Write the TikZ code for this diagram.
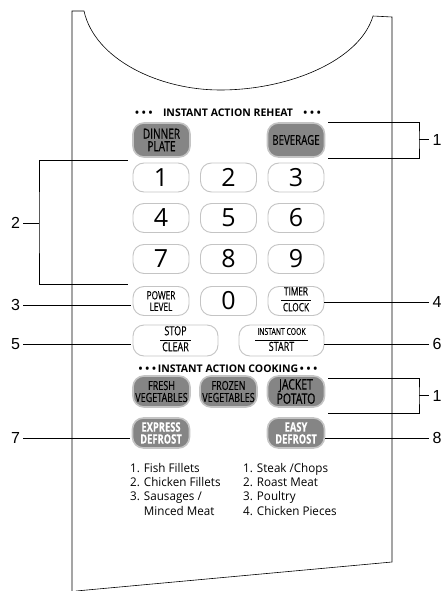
\documentclass[tikz,border=0pt]{standalone}
\usepackage{fontspec}
\setmainfont{Open Sans}
\newfontfamily\keyfont[FakeStretch=0.72,FakeBold=0.3]{Open Sans}
\newfontfamily\listfont[FakeStretch=0.97]{Open Sans}
\newfontfamily\callfont{Liberation Sans}
\usepackage{tikz}
\usetikzlibrary{positioning}
\definecolor{keygray}{HTML}{858585}
\definecolor{rimgray}{HTML}{C4C4C4}
\newcommand{\keyrule}[2]{{\setlength{\tabcolsep}{2pt}\begin{tabular}{c}#1\\[1.5pt]\hline\rule{0pt}{10.5pt}#2\end{tabular}}}

\begin{document}
\begin{tikzpicture}[x=1pt,y=-1pt,
  key/.style={rectangle,rounded corners=11pt,draw=rimgray,line width=0.9pt,fill=white,
    minimum width=56pt,minimum height=29pt,inner sep=0pt,align=center,
    font=\keyfont\fontsize{11.5}{11.5}\selectfont},
  darkkey/.style={key,fill=keygray,line width=1.6pt,minimum width=57pt,minimum height=31pt},
  num/.style={key,font=\fontsize{25}{25}\selectfont},
  callout/.style={inner sep=0pt,outer sep=3.5pt,font=\callfont\fontsize{16}{16}\selectfont}]
\useasboundingbox (0,0) rectangle (445,591);
\draw[line width=0.6pt] (72,591) -- (72,11) -- (84,11)
  .. controls (95,60) and (160,90) .. (220,90)
  .. controls (290,90) and (360,60) .. (373,16) -- (392,17) -- (392,562) -- (76,591);%外枠
\node[font=\bfseries\fontsize{10.5}{10}\selectfont] (reheat) at (228,113)
  {\textbullet\ \textbullet\ \textbullet\quad INSTANT ACTION REHEAT\quad\textbullet\ \textbullet\ \textbullet};
\node[darkkey,minimum height=34pt,font=\keyfont\fontsize{14}{12.5}\selectfont] (dinner) at (161.5,140) {DINNER\\PLATE};
\node[darkkey,minimum height=34pt,font=\keyfont\fontsize{13.5}{12}\selectfont] (bev) at (296,140) {BEVERAGE};
\foreach \n/\x/\y in {1/161/177.5, 2/228.5/177.5, 3/296/177.5,
  4/161/218, 5/228.5/218, 6/296/218, 7/161/259, 8/228.5/259, 9/296/259, 0/228.5/301}
  \node[num] (k\n) at (\x,\y) {\n};%数字キー
\node[key] (power) at (161,301) {POWER\\LEVEL};
\node[key] (timer) at (296,301) {\keyrule{TIMER}{CLOCK}};
\node[key,minimum width=85pt,minimum height=31pt,font=\keyfont\fontsize{12.5}{12}\selectfont] (stop) at (175.5,340.5) {\keyrule{STOP}{CLEAR}};
\node[key,minimum width=85pt,minimum height=31pt,font=\keyfont\fontsize{12.5}{12}\selectfont] (start) at (281.5,340.5)
  {\keyrule{\fontsize{9.5}{9}\selectfont INSTANT COOK}{START}};
\node[font=\bfseries\fontsize{10.5}{10}\selectfont] (cooking) at (228,369)
  {\textbullet\ \textbullet\ \textbullet\,INSTANT ACTION COOKING\,\textbullet\ \textbullet\ \textbullet};
\node[darkkey,font=\keyfont\fontsize{12.5}{12}\selectfont] (fresh) at (161.5,391.5) {FRESH\\VEGETABLES};
\node[darkkey,font=\keyfont\fontsize{12.5}{12}\selectfont] (frozen) at (228.5,391.5) {FROZEN\\VEGETABLES};
\node[darkkey,font=\keyfont\fontsize{14.5}{12.5}\selectfont] (potato) at (296,391.5) {JACKET\\POTATO};
\node[darkkey,minimum height=30pt,text=white,font=\keyfont\bfseries\fontsize{13}{12}\selectfont] (express) at (161,433) {EXPRESS\\DEFROST};
\node[darkkey,minimum height=30pt,text=white,font=\keyfont\bfseries\fontsize{13}{12}\selectfont] (easy) at (296,433) {EASY\\DEFROST};
\node[anchor=north west,align=left,inner sep=0pt,font=\listfont\fontsize{12}{14.3}\selectfont] (fishlist) at (130,463)
  {1. Fish Fillets\\2. Chicken Fillets\\3. Sausages /\\\phantom{3. }Minced Meat};
\node[anchor=north west,align=left,inner sep=0pt,font=\listfont\fontsize{12}{14.3}\selectfont] (meatlist) at (243,463)
  {1. Steak /Chops\\2. Roast Meat\\3. Poultry\\4. Chicken Pieces};
% 番号
\node[callout] (c1a) at (437,139.5) {1};
\node[callout] (c2) at (15.5,222.7) {2};
\node[callout] (c3) at (15.5,305) {3};
\node[callout] (c4) at (437,302) {4};
\node[callout] (c5) at (15.5,344) {5};
\node[callout] (c6) at (437,344) {6};
\node[callout] (c1b) at (437,395.5) {1};
\node[callout] (c7) at (15.5,437.7) {7};
\node[callout] (c8) at (437,437.7) {8};
\coordinate (b1a) at (419,139.5);
\coordinate (b2) at (39,222.7);
\coordinate (b1b) at (419,395.5);
\draw ([xshift=3pt]bev.north east) -| (b1a) |- ([xshift=3pt]bev.south east);
\draw (b1a) -- (c1a);
\draw ([xshift=-5pt,yshift=2pt]k1.north west) -| (b2) |- ([xshift=-5pt,yshift=-10pt]k7.south west);
\draw (c2) -- (b2);
\draw ([xshift=3pt,yshift=-3pt]potato.north east) -| (b1b) |- ([xshift=3pt,yshift=-5pt]potato.south east);
\draw (b1b) -- (c1b);
\draw[shorten >=2pt] (c3) -- (c3 -| power.west);
\draw (c4) -- (c4 -| timer.east);
\draw[shorten >=2pt] (c5) -- (c5 -| stop.west);
\draw (c6) -- (c6 -| start.east);
\draw[shorten >=2pt] (c7) -- (c7 -| express.west);
\draw (c8) -- (c8 -| easy.east);
\end{tikzpicture}
\end{document}
